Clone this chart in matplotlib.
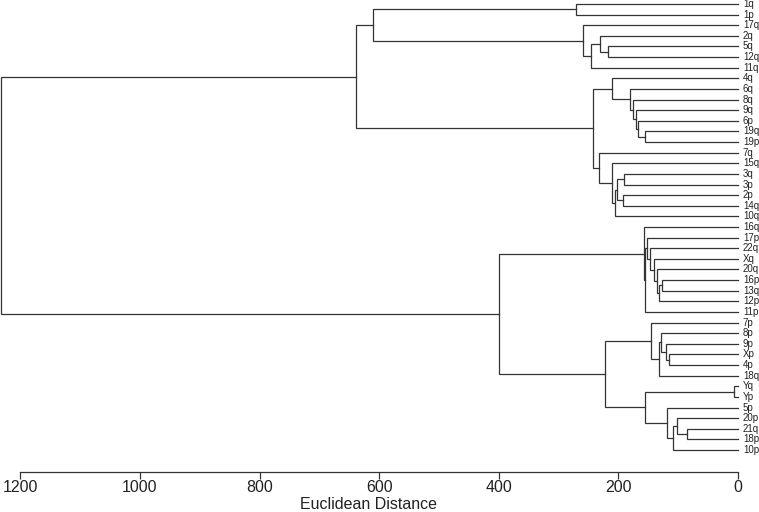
import matplotlib.pyplot as plt

plt.rcParams['font.family'] = ['Liberation Sans', 'DejaVu Sans']

# leaf order, top to bottom
leaves = ['1q', '1p', '17q', '2q', '5q', '12q', '11q',
          '4q', '6q', '8q', '9q', '6p', '19q', '19p',
          '7q', '15q', '3q', '3p', '2p', '14q', '10q',
          '16q', '17p', '22q', 'Xq', '20q', '16p', '13q', '12p', '11p',
          '7p', '8p', '9p', 'Xp', '4p', '18q',
          'Yq', 'Yp', '5p', '20p', '21q', '18p', '10p']

# merge k (1-based) joins merge_left[k-1] and merge_right[k-1];
# strings are leaves, ints are earlier merges
merge_left = ['Yq', '21q', 2, 3, 'Xp', '5p', '9p', '16p', '8p', 9,
              8, '20q', 'Xq', '7p', '22q', 1, '19q', '17p', 18, '16q',
              '6p', '9q', '8q', '6q', '3q', '2p', 25, 27, '15q', '4q',
              '5q', 14, '2q', '7q', 30, 33, '17q', '1q', 20, 38,
              40, 41]
merge_right = ['Yp', '18p', '20p', '10p', '4p', 4, 5, '13q', 7, '18q',
               '12p', 11, 12, 10, 13, 6, '19p', 15, '11p', 19,
               17, 21, 22, 23, '3p', '14q', 26, '10q', 28, 24,
               '12q', 16, 31, 29, 34, '11q', 36, '1p', 32, 37,
               35, 39]
merge_height = [6, 86, 101.5, 108, 115, 119, 120, 127.5, 129, 131.5,
                132.6, 135, 141, 146, 146.5, 155.5, 155.5, 152.7, 154.7, 157,
                168, 171, 175, 180.6, 190.6, 192.8, 201.5, 205, 210, 210,
                218, 222, 231, 232, 242, 246, 260, 271, 400, 610,
                639, 1232]

xticks = [1200, 1000, 800, 600, 400, 200, 0]

fig = plt.figure(figsize=(7.59, 5.12), dpi=100)
ax = fig.add_axes([0, 40 / 512, 738 / 759, 472 / 512])

pos = {name: (i, 0.0) for i, name in enumerate(leaves)}
for k, (a, b, h) in enumerate(zip(merge_left, merge_right, merge_height), start=1):
    ya, ha = pos[a]
    yb, hb = pos[b]
    ax.plot([ha, h, h, hb], [ya, ya, yb, yb], color='#333333', lw=0.9,
            solid_joinstyle='miter', clip_on=False)
    pos[k] = ((ya + yb) / 2, h)

for i, name in enumerate(leaves):
    ax.annotate(name, (0, i), xytext=(3.5, 0), textcoords='offset points',
                va='center', ha='left', fontsize=7, color='#222222',
                annotation_clip=False)

ax.set_xlim(1234, 0)
ax.set_ylim(44.07, -0.377)
for s in ['top', 'left', 'right']:
    ax.spines[s].set_visible(False)
ax.spines['bottom'].set_bounds(0, 1200)
ax.spines['bottom'].set_color('#333333')
ax.spines['bottom'].set_linewidth(0.9)
ax.set_yticks([])
ax.set_xticks(xticks)
ax.set_xticklabels([str(t) for t in xticks])
ax.tick_params(axis='x', length=5, width=0.9, color='#333333', pad=1,
               labelsize=11.5, labelcolor='#222222')
ax.set_xlabel('Euclidean Distance', fontsize=11.5, color='#222222', labelpad=1)

fig.savefig('out.png', dpi=100)
